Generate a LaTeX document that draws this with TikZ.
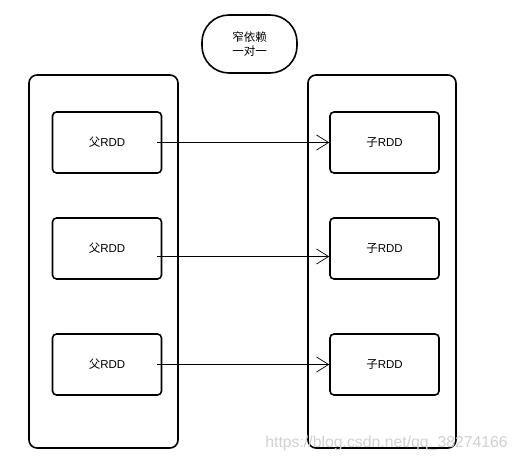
\documentclass[tikz,border=0pt]{standalone}
\usepackage{fontspec}
\setmainfont{Liberation Sans}
\newfontfamily\cjk{Noto Sans CJK SC}
\usetikzlibrary{arrows.meta,calc}
\begin{document}
\begin{tikzpicture}[x=1pt,y=-1pt,
  container/.style={draw,line width=1.6pt,rounded corners=8pt},
  rddbox/.style={draw,line width=1.6pt,rounded corners=4pt,minimum width=109pt,minimum height=61pt,inner sep=0pt,font=\fontsize{11.5}{13}\selectfont},
  arr/.style={line width=0.7pt,-{Straight Barb[length=12pt,width=15pt,line width=0.7pt]}},
  title/.style={draw,line width=1.6pt,rounded corners=27pt,minimum width=95pt,minimum height=58pt,inner sep=0pt,align=center,font=\cjk\fontsize{11.5}{13.5}\selectfont},
  wm/.style={text=black!18,font=\fontsize{15.8}{16}\selectfont,anchor=base east,inner sep=0pt}]
\useasboundingbox (0,0) rectangle (518,462);
\fill[white] (0,0) rectangle (518,462);
\node[title] (t) at (249.5,44) {窄依赖\\一对一};
\draw[container] (29,75) rectangle (178,448);
\draw[container] (308,75) rectangle (456,448);
\node[rddbox] (p1) at (107,142.5) {{\cjk 父}RDD};
\node[rddbox] (p2) at (107,248.5) {{\cjk 父}RDD};
\node[rddbox] (p3) at (107,364.5) {{\cjk 父}RDD};
\node[rddbox] (c1) at (384.5,142.5) {{\cjk 子}RDD};
\node[rddbox] (c2) at (384.5,248.5) {{\cjk 子}RDD};
\node[rddbox] (c3) at (384.5,364.5) {{\cjk 子}RDD};
\coordinate (s1) at (157,142.5);
\coordinate (s2) at (157,256.5);
\coordinate (s3) at (157,364.5);
\draw[arr] (s1) -- (s1 -| c1.west);
\draw[arr] (s2) -- (s2 -| c2.west);
\draw[arr] (s3) -- (s3 -| c3.west);
\node[wm] (w) at (508,447) {https://blog.csdn.net/qq\_38274166};
\end{tikzpicture}
\end{document}
